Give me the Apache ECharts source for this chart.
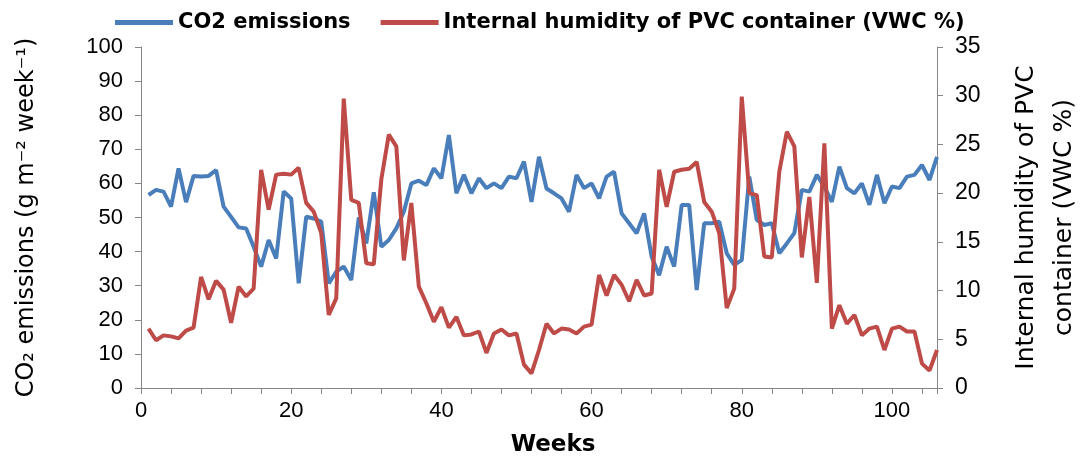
<!DOCTYPE html>
<html>
<head>
<meta charset="utf-8">
<script src="https://cdn.jsdelivr.net/npm/echarts@6/dist/echarts.min.js"></script>
<style>
  html, body { margin: 0; padding: 0; background: #fff; }
  #chart { width: 1089px; height: 457px; }
</style>
</head>
<body>
<div id="chart"></div>
<script>
// weekly values (week 1 .. 106)
const co2Emissions = [
  56.6, 58.1, 57.6, 53.2, 64.4, 54.5, 62.2, 62.0, 62.2, 63.9,
  53.2, 50.2, 47.1, 46.8, 41.4, 35.6, 43.4, 38.0, 57.6, 55.6,
  30.7, 50.2, 49.7, 48.8, 30.7, 34.1, 35.6, 31.7, 50.0, 42.4,
  57.4, 41.4, 43.4, 46.8, 51.7, 60.0, 60.8, 59.5, 64.4, 61.5,
  74.2, 57.1, 62.5, 57.1, 61.5, 58.6, 60.0, 58.6, 62.0, 61.5,
  66.4, 54.6, 67.8, 58.5, 57.1, 55.6, 51.7, 62.5, 58.6, 60.0,
  55.6, 62.0, 63.4, 51.2, 48.3, 45.4, 51.2, 38.5, 33.1, 41.4,
  35.6, 53.7, 53.7, 28.7, 48.3, 48.3, 48.8, 39.5, 36.1, 37.5,
  62.0, 49.3, 47.8, 48.3, 39.5, 42.4, 45.4, 58.1, 57.6, 62.5,
  59.0, 54.6, 64.9, 58.6, 57.1, 60.0, 53.7, 62.5, 54.2, 59.1,
  58.6, 62.0, 62.5, 65.4, 61.0, 67.8
]
const humidityVWC = [
  6.1, 4.9, 5.4, 5.3, 5.1, 5.9, 6.2, 11.4, 9.1, 11.0,
  10.1, 6.7, 10.4, 9.4, 10.2, 22.4, 18.3, 21.9, 22.0, 21.9,
  22.6, 19.0, 18.1, 15.9, 7.5, 9.2, 29.7, 19.3, 19.0, 12.8,
  12.7, 21.4, 26.0, 24.8, 13.1, 19.0, 10.4, 8.7, 6.8, 8.3,
  6.2, 7.3, 5.4, 5.5, 5.8, 3.6, 5.6, 6.0, 5.4, 5.6,
  2.4, 1.5, 3.9, 6.6, 5.6, 6.1, 6.0, 5.6, 6.3, 6.5,
  11.6, 9.5, 11.6, 10.6, 8.9, 11.1, 9.5, 9.7, 22.4, 18.6,
  22.2, 22.4, 22.5, 23.2, 19.1, 18.1, 15.9, 8.2, 10.2, 29.9,
  20.0, 19.8, 13.5, 13.4, 22.2, 26.3, 24.8, 13.4, 19.6, 10.8,
  25.1, 6.1, 8.5, 6.6, 7.5, 5.4, 6.1, 6.3, 3.9, 6.1,
  6.3, 5.8, 5.8, 2.5, 1.8, 3.9
]
const weeks = co2Emissions.map((v, i) => i + 1)
const weekLabels = [0, 20, 40, 60, 80, 100]

const seriesNames = ['CO2 emissions', 'Internal humidity of PVC container (VWC %)']
const colors = ['#4a7ebb', '#be4b48']

let myChart = echarts.init(document.getElementById('chart'))
let axisLineStyle = { color: '#868686', width: 1 }
let labelFont = 'Liberation Sans Narrow, Liberation Sans, sans-serif'
let titleFont = 'DejaVu Sans, sans-serif'

let option = {
  animation: false,
  color: colors,
  legend: {
    data: seriesNames,
    left: 110,
    top: 7,
    icon: 'rect',
    itemWidth: 58,
    itemHeight: 5,
    itemGap: 30,
    textStyle: { fontFamily: titleFont, fontSize: 21, fontWeight: 'bold', color: '#000' }
  },
  grid: { left: 141, right: 152, top: 47, bottom: 69, outerBoundsMode: 'none' },
  xAxis: {
    type: 'value',
    min: 0,
    max: 106,
    interval: 4,
    name: 'Weeks',
    nameLocation: 'middle',
    nameGap: 46,
    nameTextStyle: { fontFamily: titleFont, fontSize: 23, fontWeight: 'bold', color: '#000', padding: [0, 0, 0, 28] },
    splitLine: { show: false },
    axisLine: { lineStyle: axisLineStyle },
    axisTick: { inside: false, length: 6, lineStyle: axisLineStyle },
    axisLabel: {
      margin: 12,
      fontFamily: labelFont,
      fontSize: 22,
      color: '#000',
      formatter: function (v) {
        return weekLabels.indexOf(v) >= 0 ? String(v) : ''
      }
    }
  },
  yAxis: [
    {
      type: 'value',
      min: 0,
      max: 100,
      interval: 10,
      name: 'CO₂ emissions (g m⁻² week⁻¹)',
      nameLocation: 'middle',
      nameRotate: 90,
      nameGap: 102,
      nameTextStyle: { fontFamily: titleFont, fontSize: 24, color: '#000' },
      splitLine: { show: false },
      axisLine: { show: true, lineStyle: axisLineStyle },
      axisTick: { show: true, length: 6, lineStyle: axisLineStyle },
      axisLabel: { margin: 18, fontFamily: labelFont, fontSize: 22, color: '#000' }
    },
    {
      type: 'value',
      min: 0,
      max: 35,
      interval: 5,
      position: 'right',
      name: 'Internal humidity of PVC\ncontainer (VWC %)',
      nameLocation: 'middle',
      nameRotate: 90,
      nameGap: 70,
      nameTextStyle: { fontFamily: titleFont, fontSize: 25, color: '#000', lineHeight: 38 },
      splitLine: { show: false },
      axisLine: { show: true, lineStyle: axisLineStyle },
      axisTick: { show: true, length: 6, lineStyle: axisLineStyle },
      axisLabel: { margin: 18, fontFamily: labelFont, fontSize: 23, color: '#000' }
    }
  ],
  series: [
    {
      name: seriesNames[0],
      type: 'line',
      yAxisIndex: 0,
      showSymbol: false,
      lineStyle: { width: 4 },
      data: weeks.map((w, i) => [w, co2Emissions[i]])
    },
    {
      name: seriesNames[1],
      type: 'line',
      yAxisIndex: 1,
      showSymbol: false,
      lineStyle: { width: 4 },
      data: weeks.map((w, i) => [w, humidityVWC[i]])
    }
  ]
}
myChart.setOption(option)
</script>
</body>
</html>
